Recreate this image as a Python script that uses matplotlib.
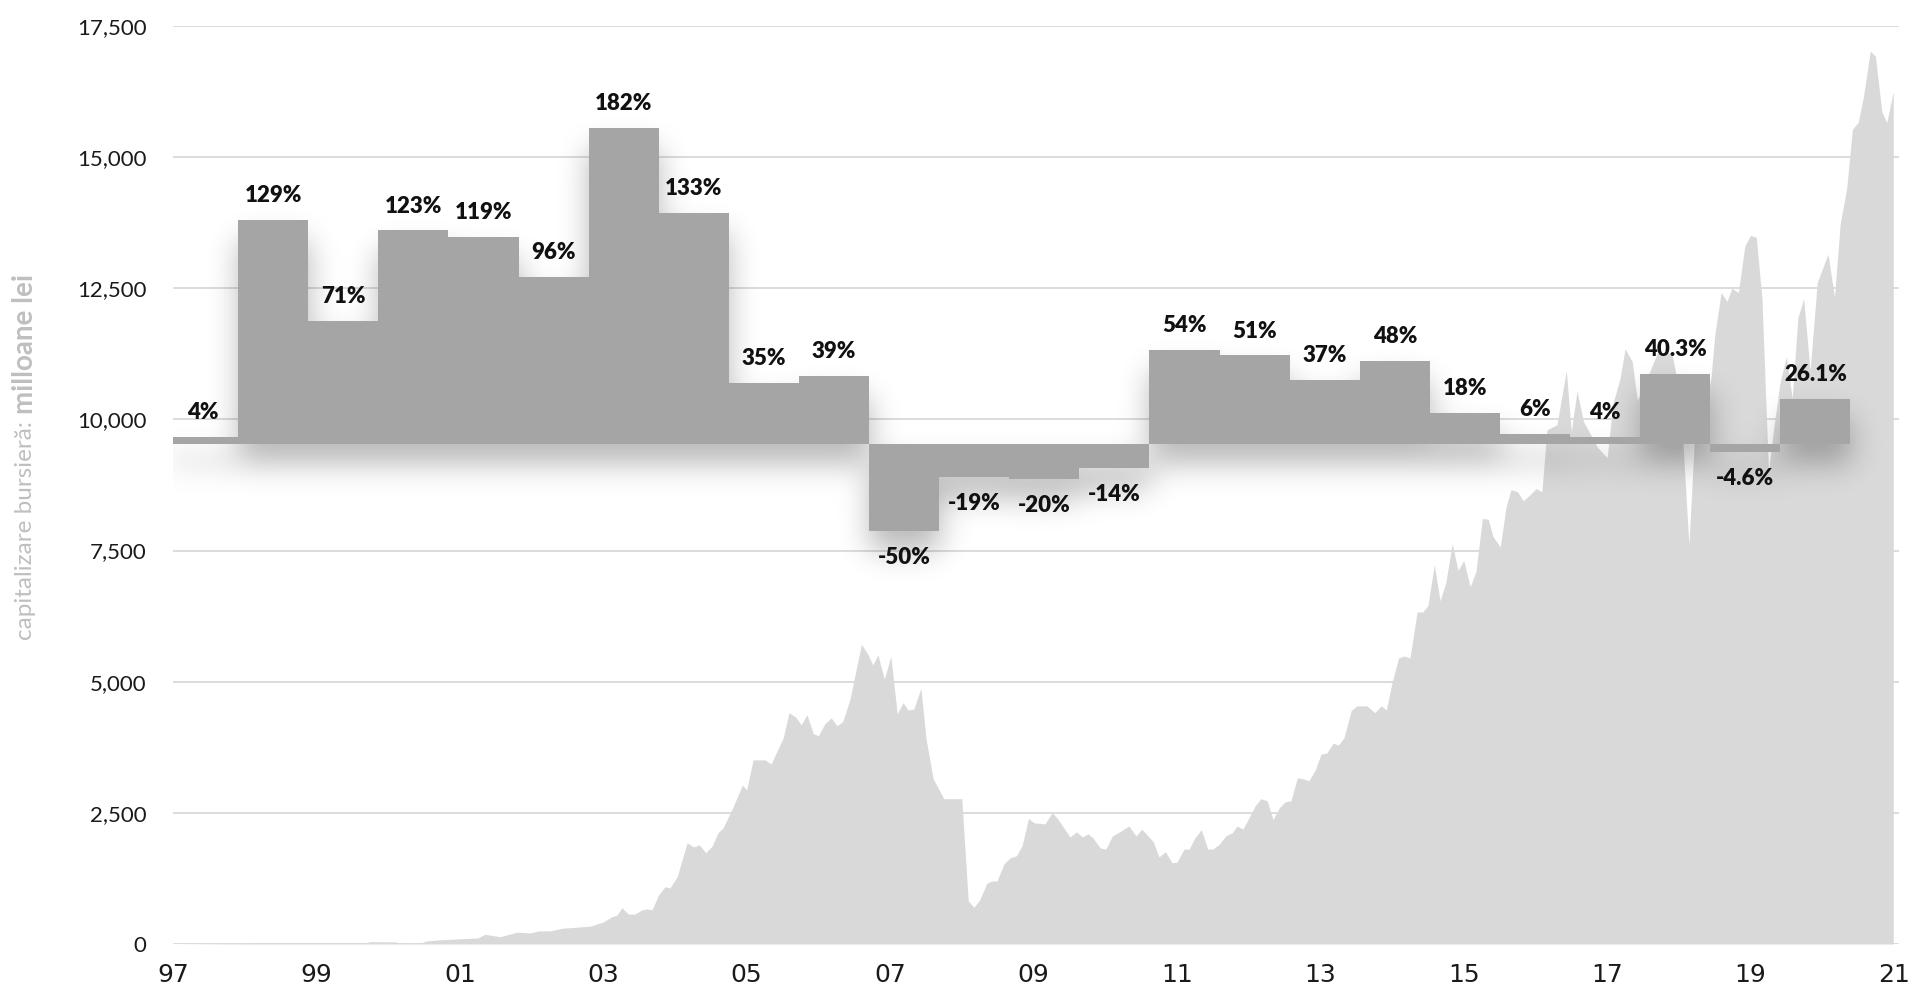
import numpy as np
import matplotlib
matplotlib.use("Agg")
import matplotlib.pyplot as plt
from matplotlib.ticker import FuncFormatter

# market capitalisation (millions lei), decimal years
cap_dates = [
    1997.0, 1997.5, 1998.0, 1998.3, 1998.8, 1999.3, 1999.7, 1999.75, 2000.1, 2000.2,
    2000.44, 2000.53, 2000.68, 2001.0, 2001.25, 2001.35, 2001.56, 2001.8, 2001.98, 2002.1,
    2002.26, 2002.43, 2002.82, 2003.0, 2003.12, 2003.19, 2003.26, 2003.35, 2003.44, 2003.54,
    2003.61, 2003.68, 2003.77, 2003.86, 2003.93, 2004.03, 2004.17, 2004.26, 2004.34, 2004.43,
    2004.52, 2004.6, 2004.67, 2004.81, 2004.94, 2005.0, 2005.09, 2005.26, 2005.34, 2005.51,
    2005.59, 2005.68, 2005.76, 2005.84, 2005.93, 2006.0, 2006.09, 2006.18, 2006.26, 2006.34,
    2006.44, 2006.6, 2006.68, 2006.76, 2006.83, 2006.92, 2007.01, 2007.1, 2007.18, 2007.25,
    2007.33, 2007.43, 2007.5, 2007.6, 2007.75, 2008.0, 2008.09, 2008.17, 2008.25, 2008.35,
    2008.42, 2008.49, 2008.59, 2008.67, 2008.76, 2008.84, 2008.93, 2009.01, 2009.16, 2009.26,
    2009.33, 2009.51, 2009.6, 2009.68, 2009.76, 2009.83, 2009.93, 2010.01, 2010.1, 2010.18,
    2010.33, 2010.43, 2010.51, 2010.67, 2010.75, 2010.84, 2010.93, 2011.0, 2011.1, 2011.17,
    2011.25, 2011.34, 2011.43, 2011.5, 2011.59, 2011.68, 2011.77, 2011.84, 2011.92, 2012.01,
    2012.09, 2012.17, 2012.26, 2012.34, 2012.43, 2012.51, 2012.59, 2012.68, 2012.76, 2012.84,
    2012.93, 2013.01, 2013.09, 2013.18, 2013.25, 2013.33, 2013.43, 2013.51, 2013.65, 2013.76,
    2013.85, 2013.92, 2014.0, 2014.09, 2014.17, 2014.25, 2014.35, 2014.43, 2014.5, 2014.59,
    2014.67, 2014.75, 2014.84, 2014.92, 2015.0, 2015.09, 2015.17, 2015.26, 2015.34, 2015.41,
    2015.51, 2015.59, 2015.66, 2015.75, 2015.83, 2015.93, 2016.01, 2016.09, 2016.16, 2016.3,
    2016.43, 2016.5, 2016.58, 2016.67, 2016.86, 2017.0, 2017.08, 2017.18, 2017.25, 2017.35,
    2017.42, 2017.6, 2017.7, 2017.9, 2017.95, 2018.05, 2018.14, 2018.22, 2018.35, 2018.45,
    2018.5, 2018.59, 2018.67, 2018.74, 2018.83, 2018.92, 2019.0, 2019.08, 2019.16, 2019.25,
    2019.32, 2019.41, 2019.5, 2019.58, 2019.66, 2019.74, 2019.83, 2019.93, 2020.01, 2020.08,
    2020.17, 2020.25, 2020.34, 2020.42, 2020.5, 2020.57, 2020.67, 2020.74, 2020.83, 2020.9,
    2020.99,
]
cap_values = [
    0, 5, 10, 30, 20, 20, 25, 45, 40, 10,
    10, 55, 76, 100, 115, 185, 140, 225, 210, 250,
    250, 300, 340, 420, 520, 550, 690, 570, 570, 650,
    670, 650, 930, 1090, 1070, 1280, 1930, 1850, 1890, 1740,
    1870, 2120, 2210, 2610, 3030, 2940, 3510, 3510, 3430, 3930,
    4410, 4330, 4180, 4370, 4010, 3970, 4200, 4310, 4160, 4240,
    4660, 5710, 5550, 5320, 5510, 5050, 5480, 4390, 4600, 4460,
    4480, 4870, 3930, 3150, 2770, 2770, 820, 700, 840, 1160,
    1200, 1200, 1530, 1640, 1680, 1870, 2390, 2310, 2290, 2500,
    2400, 2040, 2140, 2040, 2100, 2020, 1830, 1810, 2060, 2120,
    2250, 2060, 2190, 1950, 1660, 1760, 1550, 1560, 1810, 1810,
    2020, 2180, 1810, 1810, 1900, 2060, 2120, 2250, 2190, 2420,
    2630, 2770, 2730, 2370, 2600, 2710, 2730, 3170, 3150, 3110,
    3320, 3620, 3640, 3830, 3790, 3930, 4450, 4540, 4540, 4410,
    4540, 4460, 4980, 5450, 5490, 5450, 6330, 6330, 6450, 7230,
    6540, 6890, 7630, 7120, 7310, 6810, 7100, 8110, 8100, 7760,
    7570, 8330, 8660, 8620, 8450, 8570, 8680, 8620, 9800, 9900,
    10930, 9770, 10540, 9960, 9480, 9270, 10300, 10780, 11350, 11100,
    10370, 10930, 11270, 11270, 10930, 9700, 7610, 9700, 10000, 10820,
    11600, 12420, 12250, 12500, 12420, 13310, 13510, 13470, 12280, 9000,
    9800, 10700, 11200, 10400, 11940, 12300, 10930, 12610, 12900, 13150,
    12330, 13730, 14400, 15530, 15660, 16120, 17020, 16930, 15870, 15660,
    16250,
]

# annual returns (%), 1997 - 2020
ret_years = list(range(1997, 2021))
ret_values = [4, 129, 71, 123, 119, 96, 182, 133, 35, 39, -50, -19,
              -20, -14, 54, 51, 37, 48, 18, 6, 4, 40.3, -4.6, 26.1]

x_ticks = list(range(1997, 2022, 2))
x_labels = ["97", "99", "01", "03", "05", "07", "09", "11", "13", "15", "17", "19", "21"]
y_ticks = list(range(0, 17501, 2500))

AREA = "#d9d9d9"
BAR = "#a5a5a5"
GRID = "#d9d9d9"

W, H = 1910, 994
fig = plt.figure(figsize=(W / 100, H / 100), dpi=100)
rect = [173 / W, 1 - 944 / H, (1899 - 173) / W, (944 - 26) / H]

ax = fig.add_axes(rect)
ax.fill_between(cap_dates, cap_values, 0, color=AREA, lw=0, zorder=2)
ax.set_xlim(1997, 2021.07)
ax.set_ylim(0, 17500)
ax.set_yticks(y_ticks)
ax.yaxis.set_major_formatter(FuncFormatter(lambda v, p: f"{v:,.0f}"))
ax.set_xticks(x_ticks)
ax.set_xticklabels(x_labels)
ax.grid(axis="y", color=GRID, lw=1.3, zorder=0)
ax.set_axisbelow(True)
for s in ax.spines.values():
    s.set_visible(False)
ax.tick_params(axis="both", length=0)
ax.tick_params(axis="y", pad=19, labelsize=16, labelcolor="#1a1a1a")
ax.tick_params(axis="x", pad=14, labelsize=18, labelcolor="#1a1a1a")
for t in ax.get_yticklabels():
    t.set_family(["Lato", "DejaVu Sans"])
for t in ax.get_xticklabels():
    t.set_family(["Liberation Sans Narrow", "DejaVu Sans"])

# returns: own axes on top, same rectangle
bx = fig.add_axes(rect)
bx.patch.set_alpha(0)
bx.axis("off")
px_x = 70.1            # pixels per year-bar
px_y = 1.737           # pixels per percentage point
x0 = 5 / px_x          # first bar starts a little left of the axis
xlim = (x0, x0 + (1899 - 173) / px_x)
ylim = (-(944 - 444) / px_y, (444 - 26) / px_y)

pos = np.arange(len(ret_values))
vals = np.array(ret_values, dtype=float)

# soft drop shadow below the bars
gx = np.arange(-1.0, 25.5, 1 / px_x)
gy = np.arange(-300.0, 250.0, 1 / px_y)
mask = np.zeros((len(gy), len(gx)))
off = 20 / px_y
for p, v in zip(pos, vals):
    lo, hi = min(0, v) - off, max(0, v) - off
    mask[np.ix_((gy >= lo) & (gy <= hi), (gx >= p) & (gx <= p + 1))] = 1.0
sig = 15
kx = np.exp(-0.5 * (np.arange(-3 * sig, 3 * sig + 1) / sig) ** 2)
kx /= kx.sum()
blur = np.apply_along_axis(lambda r: np.convolve(r, kx, mode="same"), 1, mask)
blur = np.apply_along_axis(lambda c: np.convolve(c, kx, mode="same"), 0, blur)
shadow = np.zeros((len(gy), len(gx), 4))
shadow[..., 3] = 0.28 * blur
bx.imshow(shadow, extent=[gx[0], gx[-1], gy[0], gy[-1]], origin="lower",
          aspect="auto", interpolation="bilinear", zorder=1)

bx.bar(pos, vals, width=1.0, align="edge", color=BAR, lw=0, zorder=2)
bx.set_xlim(*xlim)
bx.set_ylim(*ylim)

for p, v in zip(pos, vals):
    dy = 17.5 if v >= 0 else -19
    bx.annotate(f"{v:g}%", (p + 0.5, v), xytext=(0, dy), textcoords="offset points",
                ha="center", va="center", fontsize=16, fontweight="heavy",
                family=["Lato", "DejaVu Sans"], color="#111111", zorder=3)

# y axis title: plain + bold parts
fig.text(25 / W, 1 - 640 / H, "capitalizare bursieră:", rotation=90, ha="center",
         va="bottom", fontsize=17.5, color="#bfbfbf", family=["Lato", "DejaVu Sans"])
fig.text(25 / W, 1 - 414 / H, "milloane lei", rotation=90, ha="center",
         va="bottom", fontsize=20, fontweight="bold", color="#bfbfbf",
         family=["Lato", "DejaVu Sans"])

fig.savefig("out.png", dpi=100)
